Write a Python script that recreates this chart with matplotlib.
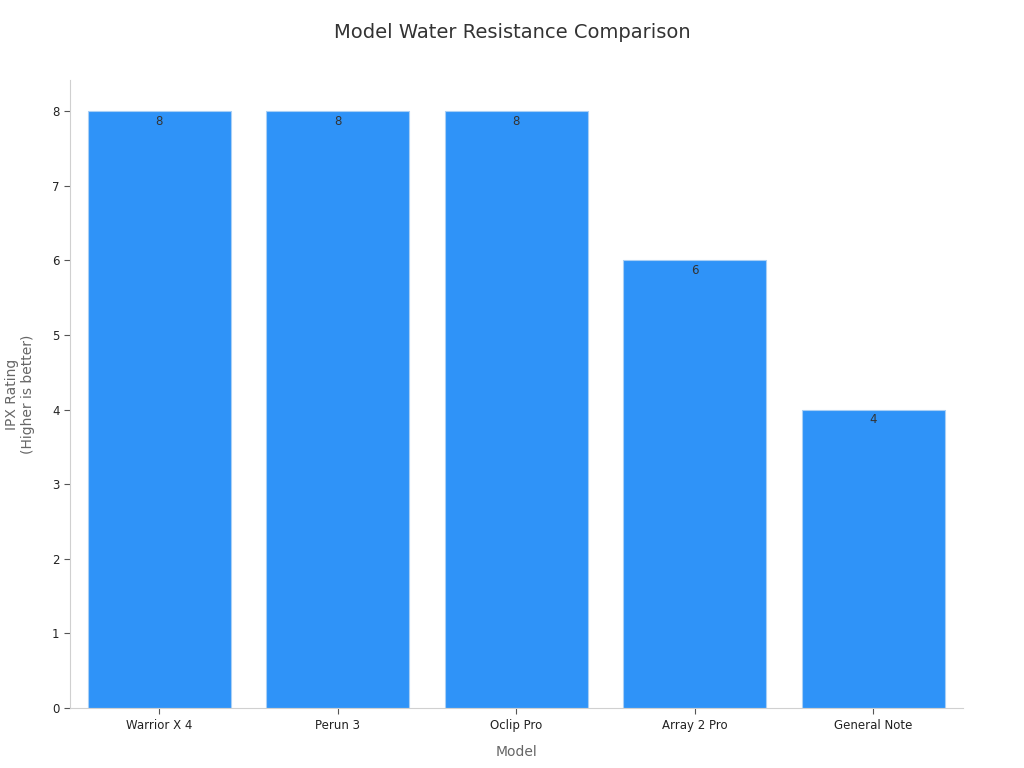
import matplotlib
matplotlib.use("Agg")
import matplotlib.pyplot as plt

models = ["Warrior X 4", "Perun 3", "Oclip Pro", "Array 2 Pro", "General Note"]
ipx = [8, 8, 8, 6, 4]

fig, ax = plt.subplots(figsize=(10.24, 7.68), dpi=100)
fig.subplots_adjust(left=0.0684, right=0.940, top=0.896, bottom=0.078)

bars = ax.bar(range(len(models)), ipx, width=0.8, color="#2F93F8",
              edgecolor="#A9CFF5", linewidth=0.8)
for b, v in zip(bars, ipx):
    ax.text(b.get_x() + b.get_width() / 2, v - 0.05, f"{v}", ha="center", va="top",
            fontsize=8.5, color="#333333")

ax.set_xticks(range(len(models)))
ax.set_xticklabels(models, fontsize=8.5, color="#222222")
ax.set_xlim(-0.5, 4.5)
ax.set_ylim(0, 8.42)
ax.set_yticks(range(0, 9))
ax.tick_params(axis="y", labelsize=8.5, colors="#222222", length=4, color="#555555")
ax.tick_params(axis="x", length=4, color="#555555")

for s in ["top", "right"]:
    ax.spines[s].set_visible(False)
for s in ["left", "bottom"]:
    ax.spines[s].set_color("#D0D0D0")
    ax.spines[s].set_linewidth(0.8)

ax.set_xlabel("Model", fontsize=10, color="#666666", labelpad=10)
ax.set_ylabel("IPX Rating\n(Higher is better)", fontsize=10, color="#666666", labelpad=12)
fig.suptitle("Model Water Resistance Comparison", fontsize=14, color="#333333", y=0.97)

fig.savefig("out.png", dpi=100)
